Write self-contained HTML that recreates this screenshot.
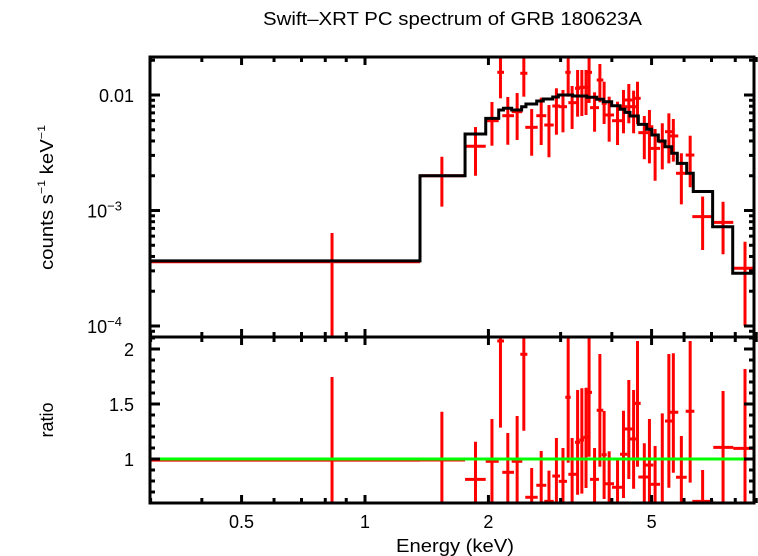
<!DOCTYPE html>
<html><head><meta charset="utf-8"><style>
html,body{margin:0;padding:0;background:#fff;}
svg{display:block;font-family:"Liberation Sans",Arial,sans-serif;}
</style></head><body>
<svg id="chart" width="758" height="556" viewBox="0 0 758 556" xmlns="http://www.w3.org/2000/svg">
<rect x="0" y="0" width="758" height="556" fill="#fff"/>
<defs>
<clipPath id="clipTop"><rect x="150" y="57" width="604" height="280"/></clipPath>
<clipPath id="clipBot"><rect x="150" y="337" width="604" height="166"/></clipPath>
</defs>
<text x="263" y="25" font-size="18" textLength="379" lengthAdjust="spacingAndGlyphs">Swift–XRT PC spectrum of GRB 180623A</text>
<text transform="translate(53,270) rotate(-90)" font-size="18" textLength="145" lengthAdjust="spacingAndGlyphs">counts s<tspan font-size="11" dy="-8">−1</tspan><tspan dy="8"> keV</tspan><tspan font-size="11" dy="-8">−1</tspan></text>
<text transform="translate(53,420) rotate(-90)" font-size="18" text-anchor="middle">ratio</text>
<text x="396" y="552" font-size="18" textLength="118" lengthAdjust="spacingAndGlyphs">Energy (keV)</text>
<g id="gTop" clip-path="url(#clipTop)"></g>
<g id="gBot" clip-path="url(#clipBot)"></g>
<g id="gAxes"></g>
</svg>
<script>
// bin edges (keV)
const binLo = [0.30,1.362,1.754,1.970,2.102,2.162,2.279,2.392,2.460,2.617,2.737,2.863,2.968,3.080,3.133,3.252,3.332,3.408,3.460,3.539,3.674,3.779,3.834,4.004,4.188,4.306,4.429,4.539,4.641,4.828,4.956,5.193,5.392,5.494,5.735,6.056,6.286,7.071,7.911];
const binHi = [1.362,1.754,1.970,2.119,2.183,2.309,2.419,2.489,2.638,2.768,2.886,2.990,3.110,3.175,3.283,3.345,3.421,3.505,3.579,3.722,3.813,3.886,4.049,4.243,4.364,4.487,4.599,4.703,4.956,5.049,5.243,5.444,5.617,5.809,6.090,6.357,7.071,7.911,9.02];
const binCenter = [0.831,1.54,1.86,2.04,2.14,2.23,2.35,2.44,2.55,2.69,2.81,2.93,3.04,3.13,3.20,3.30,3.38,3.46,3.52,3.63,3.74,3.83,3.94,4.13,4.27,4.40,4.52,4.62,4.80,4.94,5.10,5.31,5.51,5.65,5.91,6.21,6.66,7.47,8.45];
// flux (counts/s/keV)
const flux   = [3.6e-4,2.00e-3,3.60e-3,5.99e-3,1.572e-2,6.62e-3,7.17e-3,1.542e-2,5.25e-3,6.62e-3,5.50e-3,8.03e-3,7.92e-3,1.572e-2,8.58e-3,1.143e-2,1.166e-2,1.166e-2,1.572e-2,7.77e-3,1.349e-2,8.47e-3,6.71e-3,5.99e-3,7.92e-3,9.05e-3,7.92e-3,9.36e-3,4.72e-3,5.31e-3,3.45e-3,3.94e-3,4.81e-3,4.42e-3,2.10e-3,3.02e-3,8.84e-4,7.90e-4,3.16e-4];
const fluxHi = [6.39e-4,2.92e-3,5.28e-3,8.70e-3,2.22e-2,9.61e-3,1.04e-2,2.13e-2,7.56e-3,9.48e-3,8.19e-3,1.143e-2,1.105e-2,2.22e-2,1.197e-2,1.646e-2,1.646e-2,1.646e-2,2.22e-2,1.055e-2,1.855e-2,1.303e-2,9.67e-3,8.75e-3,1.105e-2,1.245e-2,1.09e-2,1.303e-2,6.58e-3,7.42e-3,5.08e-3,5.69e-3,6.94e-3,6.20e-3,3.13e-3,4.44e-3,1.32e-3,1.19e-3,5.37e-4];
const fluxLo = [5e-5,1.08e-3,2.00e-3,3.64e-3,9.36e-3,3.71e-3,4.08e-3,9.67e-3,2.98e-3,3.69e-3,2.89e-3,4.53e-3,4.75e-3,9.67e-3,5.08e-3,6.49e-3,6.58e-3,6.71e-3,8.53e-3,4.81e-3,8.65e-3,5.61e-3,3.94e-3,3.69e-3,4.66e-3,5.69e-3,4.66e-3,5.61e-3,2.78e-3,2.56e-3,1.81e-3,2.27e-3,2.56e-3,2.65e-3,1.13e-3,1.59e-3,4.55e-4,4.18e-4,1.0e-4];
// ratio
const ratio   = [0.99,0.991,0.815,0.979,2.073,0.879,0.979,1.952,0.652,0.761,0.615,0.845,0.797,1.561,0.861,1.152,1.173,1.197,1.606,0.815,1.443,1.039,0.775,0.743,1.043,1.273,1.182,1.506,0.836,0.945,0.77,0.5,1.345,1.425,0.834,1.434,0.615,1.106,1.097];
const ratioHi = [1.745,1.43,1.157,1.364,2.2,1.236,1.391,2.2,0.918,1.073,0.894,1.191,1.1,2.2,1.191,1.627,1.643,1.648,2.2,1.1,1.955,1.436,1.07,0.997,1.439,1.718,1.627,2.073,1.143,1.364,1.118,1.415,1.955,1.961,1.209,2.073,0.9,1.618,1.818];
const ratioLo = [0.3,0.5,0.5,0.597,1.285,0.5,0.5,1.257,0.5,0.5,0.5,0.5,0.5,0.966,0.5,0.675,0.685,0.736,1.021,0.5,0.93,0.636,0.5,0.5,0.645,0.818,0.73,0.93,0.5,0.5,0.5,0.5,0.739,0.875,0.5,0.785,0.5,0.588,0.5];
// model step function
const modelEdges = [0.30,1.362,1.754,1.970,2.119,2.176,2.279,2.410,2.469,2.623,2.722,2.870,2.962,3.209,3.475,3.674,3.813,3.996,4.188,4.306,4.429,4.641,4.866,5.006,5.193,5.392,5.599,5.777,6.090,6.319,7.045,7.886,9.02];
const modelVals  = [3.66e-4,2.00e-3,4.60e-3,6.28e-3,7.41e-3,7.67e-3,7.41e-3,7.92e-3,8.36e-3,8.87e-3,9.23e-3,9.61e-3,1.00e-2,9.80e-3,9.55e-3,9.18e-3,8.75e-3,8.08e-3,7.52e-3,7.08e-3,6.58e-3,5.57e-3,5.05e-3,4.50e-3,4.00e-3,3.56e-3,3.13e-3,2.56e-3,2.10e-3,1.46e-3,7.23e-4,2.86e-4];
const xMajor = [0.5,1,2,5];
const xMinor = [0.3,0.4,0.6,0.7,0.8,0.9,3,4,6,7,8,9];
const xLabels = ["0.5","1","2","5"];
const rMajor = [1,1.5,2];
const rLabels = ["1","1.5","2"];

const L=150,R=754,T=57,M=337,B=503;
const X = e => 365 + 410*Math.log10(e);
const Y = f => 95 - 115.5*(Math.log10(f)+2);
const YR = r => 459 - 110*(r-1);
const NS="http://www.w3.org/2000/svg";
function mk(parent,tag,attrs){const el=document.createElementNS(NS,tag);for(const k in attrs)el.setAttribute(k,attrs[k]);parent.appendChild(el);return el;}
const gT=document.getElementById('gTop'),gB=document.getElementById('gBot'),gA=document.getElementById('gAxes');

for(let i=0;i<flux.length;i++){
  const g=mk(gT,'g',{});
  
  
  mk(g,'line',{x1:X(binLo[i]),x2:X(binHi[i]),y1:Y(flux[i]),y2:Y(flux[i]),stroke:'#f00','stroke-width':3});
  mk(g,'line',{x1:X(binCenter[i]),x2:X(binCenter[i]),y1:Y(fluxHi[i]),y2:Y(fluxLo[i]),stroke:'#f00','stroke-width':3});
}
let d='M'+X(modelEdges[0])+','+Y(modelVals[0]);
for(let i=0;i<modelVals.length;i++){d+=' L'+X(modelEdges[i])+','+Y(modelVals[i])+' L'+X(modelEdges[i+1])+','+Y(modelVals[i]);}
d+=' L'+X(modelEdges[modelEdges.length-1])+','+(M+5);
const mp=mk(gT,'path',{d:d,fill:'none',stroke:'#000','stroke-width':3});



for(let i=0;i<ratio.length;i++){
  const g=mk(gB,'g',{});
  
  
  mk(g,'line',{x1:X(binLo[i]),x2:X(binHi[i]),y1:YR(ratio[i]),y2:YR(ratio[i]),stroke:'#f00','stroke-width':3});
  mk(g,'line',{x1:X(binCenter[i]),x2:X(binCenter[i]),y1:YR(ratioHi[i]),y2:YR(ratioLo[i]),stroke:'#f00','stroke-width':3});
}
const ul=mk(gB,'line',{x1:L,x2:R,y1:YR(1),y2:YR(1),stroke:'#0f0','stroke-width':3});



mk(gA,'rect',{x:L,y:T,width:R-L,height:B-T,fill:'none',stroke:'#000','stroke-width':3});
mk(gA,'line',{x1:L,x2:R,y1:M,y2:M,stroke:'#000','stroke-width':3});
function tick(x1,y1,x2,y2){mk(gA,'line',{x1,y1,x2,y2,stroke:'#000','stroke-width':3});}
[T,M,B].forEach(yy=>{
  xMajor.forEach(e=>{const x=X(e); if(yy!==B)tick(x,yy,x,yy+8); if(yy!==T)tick(x,yy,x,yy-8);});
  xMinor.forEach(e=>{const x=X(e); if(yy!==B)tick(x,yy,x,yy+5); if(yy!==T)tick(x,yy,x,yy-5);});
});
xMajor.forEach((e,i)=>{const t=mk(gA,'text',{x:X(e),y:528,'font-size':18,'text-anchor':'middle'});t.textContent=xLabels[i];
 });
for(let dec=-5;dec<=-1;dec++){for(let k=1;k<10;k++){const v=k*Math.pow(10,dec);const y=Y(v);if(y<T+1||y>M-1)continue;
 const len=k===1?10:5; tick(L,y,L+len,y); tick(R,y,R-len,y);}}
[[0.01,'0.01'],[1e-3,'10'],[1e-4,'10']].forEach((p,i)=>{const y=Y(p[0]);
 const t=mk(gA,'text',{x:i===0?134:122,y:y+7,'font-size':18,'text-anchor':'end'});
 
 t.textContent=p[1];
 if(i>0){const s=mk(t,'tspan',{'font-size':13,dy:-7});s.textContent=i===1?'−3':'−4';}});
for(let r=0.6;r<=2.101;r+=0.1){const y=YR(r);const maj=Math.abs(r*2-Math.round(r*2))<1e-6;const len=maj?10:5;tick(L,y,L+len,y);tick(R,y,R-len,y);}
rMajor.forEach((r,i)=>{const t=mk(gA,'text',{x:134,y:YR(r)+7,'font-size':18,'text-anchor':'end'});t.textContent=rLabels[i];
 });
</script>
</body></html>
